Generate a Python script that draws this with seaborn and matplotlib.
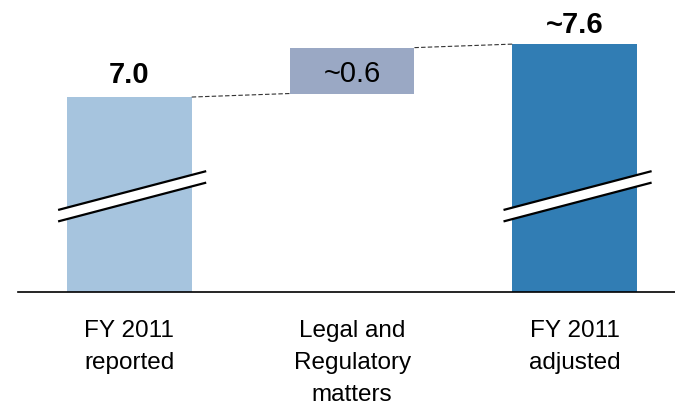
import numpy as np
import matplotlib
matplotlib.use("Agg")
import matplotlib.pyplot as plt
from matplotlib.patches import Polygon
import seaborn as sns

sns.set_style("white")
plt.rcParams['font.family'] = ['Liberation Sans', 'DejaVu Sans']
plt.rcParams['text.color'] = 'black'
plt.rcParams['xtick.color'] = 'black'

# ---- data ----
categories = ["FY 2011\nreported", "Legal and\nRegulatory\nmatters", "FY 2011\nadjusted"]
bar_tops = [7.0, 7.56, 7.6]          # top of each bar on the broken scale
mid_bottom = 7.04                    # the floating bar starts here
value_labels = ["7.0", "~0.6", "~7.6"]
bar_colors = ["#a6c4de", "#9aa8c4", "#317db4"]
broken_bars = [0, 2]                 # bars with the axis-break marks

bar_w = 0.56

fig = plt.figure(figsize=(6.75, 4.05), dpi=100)
ax = fig.add_axes([0.0267, 0.279, 0.9733, 0.721])

sns.barplot(x=categories, y=bar_tops, hue=categories, palette=bar_colors,
            legend=False, width=bar_w, saturation=1, linewidth=0, ax=ax)

# middle bar floats between the two totals
mid = ax.patches[1]
mid.set_y(mid_bottom)
mid.set_height(bar_tops[1] - mid_bottom)

ax.set_xlim(-0.5, 2.45)
ax.set_ylim(4.79, 8.10)

# dashed connectors
ax.plot([0 + bar_w / 2, 1 - bar_w / 2], [bar_tops[0], mid_bottom],
        ls=(0, (4, 2)), color="#333333", lw=0.8)
ax.plot([1 + bar_w / 2, 2 - bar_w / 2], [bar_tops[1], bar_tops[2]],
        ls=(0, (4, 2)), color="#333333", lw=0.8)

# value labels
ax.text(0, bar_tops[0] + 0.155, value_labels[0], ha="center", va="baseline",
        fontsize=21, fontweight="bold")
ax.text(1, (mid_bottom + bar_tops[1]) / 2, value_labels[1], ha="center",
        va="center_baseline", fontsize=21)
ax.text(2, bar_tops[2] + 0.125, value_labels[2], ha="center", va="baseline",
        fontsize=21, fontweight="bold")

# axis break marks
for i in broken_bars:
    x0, x1 = i - 0.32, i + 0.345
    up = [5.72, 6.16]
    lo = [5.59, 6.03]
    band = Polygon([[x0, lo[0]], [x0, up[0]], [x1, up[1]], [x1, lo[1]]],
                   closed=True, facecolor="white", edgecolor="none", zorder=3)
    ax.add_patch(band)
    ax.plot([x0, x1], up, color="black", lw=1.6, zorder=4, solid_capstyle="butt")
    ax.plot([x0, x1], lo, color="black", lw=1.6, zorder=4, solid_capstyle="butt")

# axes styling
sns.despine(ax=ax, left=True, top=True, right=True)
ax.spines["bottom"].set_color("black")
ax.spines["bottom"].set_linewidth(1.2)
ax.set_yticks([])
ax.tick_params(axis="x", length=0, pad=20, labelsize=17.5)
for lab in ax.get_xticklabels():
    lab.set_linespacing(1.58)
ax.set_xlabel("")
ax.set_ylabel("")

fig.savefig("out.png", dpi=100)
